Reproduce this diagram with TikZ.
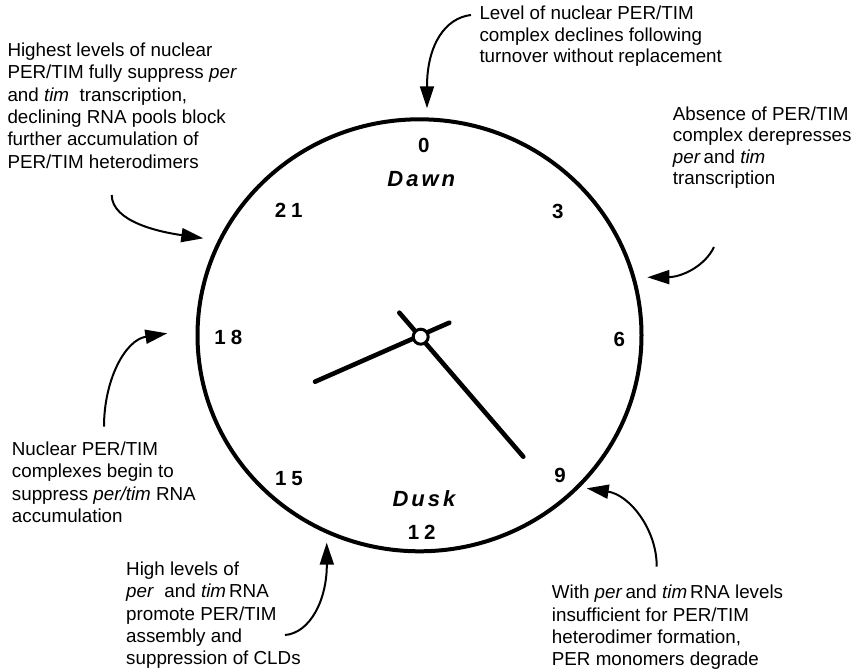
\documentclass[tikz,border=0pt]{standalone}
\usepackage{fontspec}
\setmainfont{Liberation Sans}
\usetikzlibrary{arrows.meta}

\begin{document}
\begin{tikzpicture}[x=1pt,y=-1pt,
    note/.style={anchor=north west, inner sep=0pt, align=left, font=\fontsize{18.8}{22.3}\selectfont},
    tightnote/.style={note, font=\fontsize{18.8}{21.3}\selectfont},
    hourmark/.style={inner sep=0pt, font=\fontsize{20.5}{24}\selectfont\bfseries},
    daymark/.style={inner sep=0pt, font=\fontsize{22}{26}\selectfont\bfseries\itshape},
    pointer/.style={line width=2pt, -{Triangle[length=22pt,width=14pt]}},
    hand/.style={line width=4.6pt, line cap=round}]
    \useasboundingbox (0,0) rectangle (859,671);

    % clock face
    \draw[line width=4pt] (419.5,335.3) ellipse [x radius=222, y radius=216];

    \node[hourmark] (h0)  at (423.7,145.5) {0};
    \node[hourmark] (h3)  at (557.7,211)   {3};
    \node[hourmark] (h6)  at (619.3,339.3) {6};
    \node[hourmark] (h9)  at (560,475)     {9};
    \node[hourmark] (h12) at (421.7,532.7) {1\kern5pt 2};
    \node[hourmark] (h15) at (289,478.3)   {1\kern5pt 5};
    \node[hourmark] (h18) at (228.3,337.3) {1\kern5pt 8};
    \node[hourmark] (h21) at (288.7,210)   {2\kern5pt 1};
    \node[daymark] (dawn) at (421.3,178.7) {D\kern3pt a\kern3pt w\kern3pt n};
    \node[daymark] (dusk) at (424,499)     {D\kern3pt u\kern3pt s\kern3pt k};

    % hands
    \coordinate (hourtail) at (449.3,322.7);
    \coordinate (hourtip)  at (315,381.7);
    \coordinate (mintail)  at (399.3,312.7);
    \coordinate (mintip)   at (523.3,456.7);
    \draw[hand] (hourtail) -- (hourtip);
    \draw[hand] (mintail) -- (mintip);
    \node[circle, draw, line width=3pt, fill=white, minimum size=15pt, inner sep=0pt] (hub) at (420.7,336.7) {};

    % notes
    \node[note] (peak) at (7.3,42.7) {Highest levels of nuclear\\
        PER/TIM fully suppress \textit{per}\\
        and \textit{tim}\ \ transcription,\\
        declining RNA pools block\\
        further accumulation of\\
        PER/TIM heterodimers};
    \node[tightnote] (decline) at (479.3,6) {Level of nuclear PER/TIM\\
        complex declines following\\
        turnover without replacement};
    \node[tightnote] (absence) at (672.7,106.7) {Absence of PER/TIM\\
        complex derepresses\\
        \textit{per}\kern3pt and \textit{tim}\\
        transcription};
    \node[note] (nuclear) at (11.7,441.7) {Nuclear PER/TIM\\
        complexes begin to\\
        suppress \textit{per/tim} RNA\\
        accumulation};
    \node[note] (highrna) at (126,561.7) {High levels of\\
        \textit{per}\ \ and \textit{tim}\kern3pt RNA\\
        promote PER/TIM\\
        assembly and\\
        suppression of CLDs};
    \node[note] (monomer) at (551.7,585) {With \textit{per}\kern3pt and \textit{tim}\kern3pt RNA levels\\
        insufficient for PER/TIM\\
        heterodimer formation,\\
        PER monomers degrade};

    % arrows
    \coordinate (s0) at (471,15);      \coordinate (t0) at (427,108.3);
    \coordinate (s21) at (111.7,195);  \coordinate (t21) at (203.3,238.3);
    \coordinate (s4) at (714,247);     \coordinate (t4) at (647.3,277.3);
    \coordinate (s18) at (104,426.7);  \coordinate (t18) at (167.3,333.3);
    \coordinate (s13) at (285,635);    \coordinate (t13) at (326.7,542.7);
    \coordinate (s10) at (656.7,566.7);\coordinate (t10) at (586.7,488.3);
    \draw[pointer] (s0) .. controls (445,18) and (427,45) .. (t0);
    \draw[pointer] (s21) .. controls (112,222) and (160,232) .. (t21);
    \draw[pointer] (s4) .. controls (705,266) and (682,277) .. (t4);
    \draw[pointer] (s18) .. controls (104,380) and (125,340) .. (t18);
    \draw[pointer] (s13) .. controls (310,633) and (327,600) .. (t13);
    \draw[pointer] (s10) .. controls (657,530) and (630,495) .. (t10);
\end{tikzpicture}
\end{document}
